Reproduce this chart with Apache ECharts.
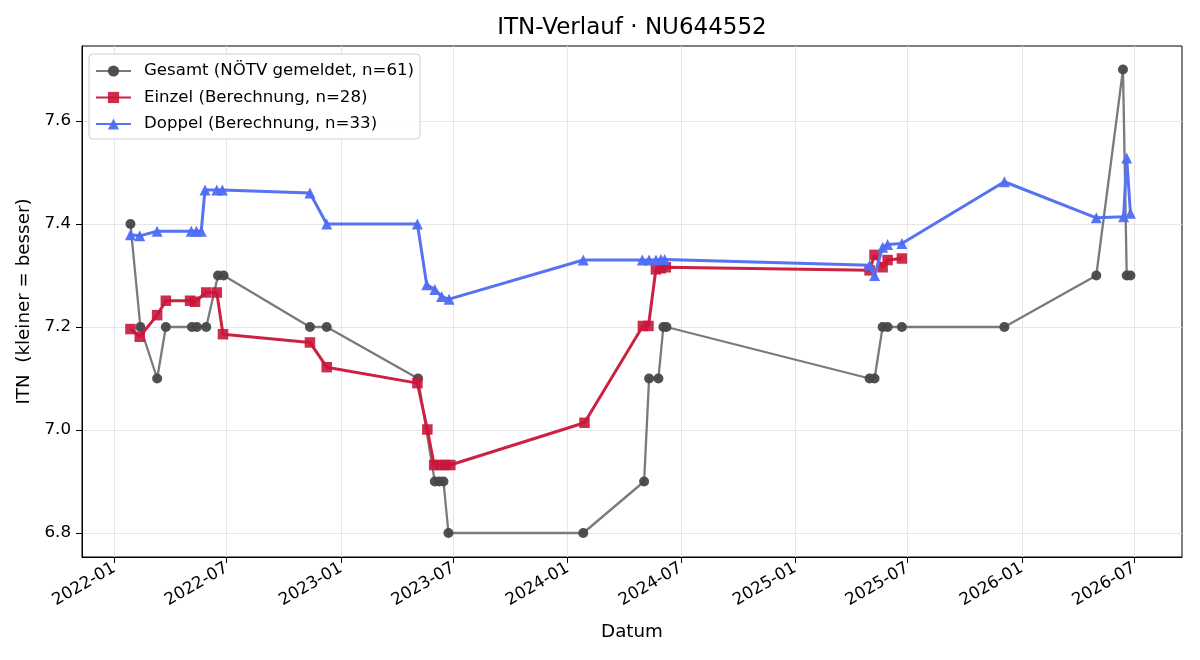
<!DOCTYPE html>
<html>
<head>
<meta charset="utf-8">
<script src="https://cdn.jsdelivr.net/npm/echarts@6/dist/echarts.min.js"></script>
<style>html,body{margin:0;padding:0;background:#fff}#chart{width:1200px;height:660px}</style>
</head>
<body>
<div id="chart"></div>
<script>
// ---- data ----
const gesamtDates = ['2022-01-27','2022-02-12','2022-03-11','2022-03-25','2022-05-06','2022-05-14','2022-05-29','2022-06-17','2022-06-26','2022-11-12','2022-12-09','2023-05-05','2023-06-01','2023-06-08','2023-06-15','2023-06-23','2024-01-26','2024-05-03','2024-05-11','2024-05-26','2024-06-03','2024-06-08','2025-05-01','2025-05-09','2025-05-22','2025-05-30','2025-06-22','2025-12-04','2026-05-01','2026-06-13','2026-06-19','2026-06-25'];
const gesamtITN = [7.4,7.2,7.1,7.2,7.2,7.2,7.2,7.3,7.3,7.2,7.2,7.1,6.9,6.9,6.9,6.8,6.8,6.9,7.1,7.1,7.2,7.2,7.1,7.1,7.2,7.2,7.2,7.2,7.3,7.7,7.3,7.3];

const einzelDates = ['2022-01-27','2022-02-11','2022-03-11','2022-03-25','2022-05-03','2022-05-11','2022-05-29','2022-06-15','2022-06-25','2022-11-12','2022-12-09','2023-05-04','2023-05-20','2023-05-31','2023-06-09','2023-06-18','2023-06-26','2024-01-28','2024-05-01','2024-05-10','2024-05-22','2024-05-30','2024-06-07','2025-05-01','2025-05-09','2025-05-22','2025-05-30','2025-06-22'];
const einzelITN = [7.196,7.181,7.223,7.251,7.251,7.249,7.267,7.267,7.186,7.170,7.122,7.091,7.001,6.932,6.932,6.932,6.932,7.014,7.202,7.202,7.312,7.314,7.316,7.310,7.340,7.316,7.330,7.333];

const doppelDates = ['2022-01-27','2022-02-11','2022-03-11','2022-05-05','2022-05-13','2022-05-21','2022-05-27','2022-06-15','2022-06-24','2022-11-12','2022-12-09','2023-05-04','2023-05-19','2023-06-01','2023-06-12','2023-06-24','2024-01-26','2024-04-30','2024-05-11','2024-05-22','2024-05-30','2024-06-05','2025-05-01','2025-05-09','2025-05-22','2025-05-30','2025-06-22','2025-12-04','2026-05-01','2026-06-14','2026-06-19','2026-06-25'];
const doppelITN = [7.379,7.377,7.386,7.386,7.386,7.386,7.466,7.466,7.466,7.460,7.400,7.400,7.282,7.273,7.259,7.254,7.330,7.330,7.330,7.330,7.331,7.331,7.320,7.300,7.355,7.360,7.362,7.482,7.412,7.414,7.528,7.421];

const xTickLabels = ['2022-01','2022-07','2023-01','2023-07','2024-01','2024-07','2025-01','2025-07','2026-01','2026-07'];
const yTickValues = [6.8, 7.0, 7.2, 7.4, 7.6];

const seriesNames = ['Gesamt (NÖTV gemeldet, n=61)','Einzel (Berechnung, n=28)','Doppel (Berechnung, n=33)'];
const chartTitle = 'ITN-Verlauf · NU644552';
const xName = 'Datum';
const yName = 'ITN  (kleiner = besser)';
const xRange = ['2021-11-10','2026-09-16'];
const yRange = [6.7534, 7.7456];

// ---- chart ----
const FONT = 'DejaVu Sans';
const toTs = s => Date.parse(s + 'T00:00:00Z');
const pairs = (d, v) => d.map((s, i) => [toTs(s), v[i]]);
const xTickValues = xTickLabels.map(m => toTs(m + '-01'));

const chart = echarts.init(document.getElementById('chart'), null, {renderer: 'canvas'});
chart.setOption({
  animation: false,
  backgroundColor: '#ffffff',
  textStyle: {fontFamily: FONT},
  title: {
    text: chartTitle, left: 632, top: 17, padding: 0, textAlign: 'center',
    textStyle: {fontFamily: FONT, fontSize: 23, fontWeight: 'normal', color: '#000'}
  },
  grid: {left: 82, right: 18, top: 46, bottom: 103, show: true, borderColor: '#000', borderWidth: 1, backgroundColor: 'transparent'},
  legend: {
    orient: 'vertical', left: 89, top: 54, padding: [7, 6, 5, 6], itemGap: 6.5,
    itemWidth: 35, itemHeight: 14,
    backgroundColor: 'rgba(255,255,255,0.85)', borderColor: '#cfcfcf', borderWidth: 1, borderRadius: 4,
    textStyle: {fontFamily: FONT, fontSize: 16.6, color: '#000', lineHeight: 20, padding: [0, 0, 0, 8]},
    data: seriesNames
  },
  xAxis: {
    type: 'value',
    min: toTs(xRange[0]), max: toTs(xRange[1]),
    axisLine: {show: true, lineStyle: {color: '#000', width: 1}},
    axisTick: {show: true, length: 6, lineStyle: {color: '#000'}, customValues: xTickValues},
    splitLine: {show: true, lineStyle: {color: '#e6e6e6', width: 1}},
    axisLabel: {
      rotate: 30, margin: 10, fontSize: 16.7, color: '#000', fontFamily: FONT, hideOverlap: false,
      customValues: xTickValues,
      formatter: function (v) {
        const d = new Date(v);
        return d.getUTCFullYear() + '-' + String(d.getUTCMonth() + 1).padStart(2, '0');
      }
    },
    name: xName, nameLocation: 'middle', nameGap: 66,
    nameTextStyle: {fontFamily: FONT, fontSize: 18.3, color: '#000'}
  },
  yAxis: {
    type: 'value', min: yRange[0], max: yRange[1],
    axisLine: {show: true, lineStyle: {color: '#000', width: 1}},
    axisTick: {show: true, length: 6, lineStyle: {color: '#000'}, customValues: yTickValues},
    splitLine: {show: true, lineStyle: {color: '#e6e6e6', width: 1}},
    axisLabel: {
      margin: 11, fontSize: 16.7, color: '#000', fontFamily: FONT,
      customValues: yTickValues,
      formatter: v => v.toFixed(1)
    },
    name: yName, nameLocation: 'middle', nameGap: 47,
    nameTextStyle: {fontFamily: FONT, fontSize: 18.3, color: '#000'}
  },
  series: [
    {
      name: seriesNames[0], type: 'line', data: pairs(gesamtDates, gesamtITN),
      symbol: 'circle', symbolSize: 10, showAllSymbol: true,
      lineStyle: {color: '#7a7a7a', width: 2.3},
      itemStyle: {color: '#474747', opacity: 0.95},
      emphasis: {disabled: true}, z: 2
    },
    {
      name: seriesNames[1], type: 'line', data: pairs(einzelDates, einzelITN),
      symbol: 'rect', symbolSize: 10.5, showAllSymbol: true,
      lineStyle: {color: '#cc2242', width: 3},
      itemStyle: {color: '#c9163b', opacity: 0.9},
      emphasis: {disabled: true}, z: 3
    },
    {
      name: seriesNames[2], type: 'line', data: pairs(doppelDates, doppelITN),
      symbol: 'triangle', symbolSize: 11, showAllSymbol: true,
      lineStyle: {color: '#5673f2', width: 3},
      itemStyle: {color: '#4f6df3', opacity: 0.95},
      emphasis: {disabled: true}, z: 4
    }
  ]
});
</script>
</body>
</html>
